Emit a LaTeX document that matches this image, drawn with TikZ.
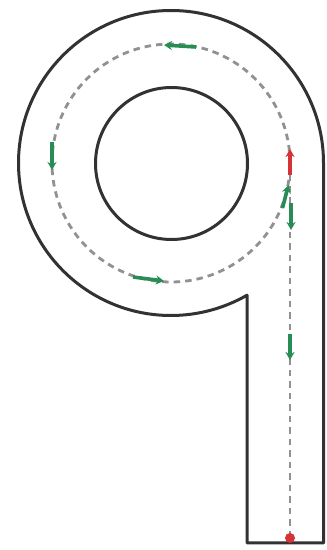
\documentclass[tikz,border=0pt]{standalone}
\usetikzlibrary{arrows.meta}
\definecolor{outline}{RGB}{50,50,50}
\definecolor{trackgray}{RGB}{145,145,145}
\definecolor{flowgreen}{RGB}{40,140,85}
\definecolor{flowred}{RGB}{215,50,55}
\tikzset{
  wall/.style={draw=outline, line width=3pt, line join=round},
  track/.style={draw=trackgray, line width=2.8pt, dash pattern=on 6.5pt off 5pt},
  flow/.style={line width=3.6pt, -{Stealth[length=8pt,width=9pt]}},
  greenflow/.style={flow, draw=flowgreen, fill=flowgreen},
  redflow/.style={flow, draw=flowred, fill=flowred}
}
\begin{document}
\begin{tikzpicture}[x=1pt,y=1pt]
\useasboundingbox (0,0) rectangle (327,550);
% outer wall: big arc plus straight stem
\draw[wall, fill=white] (323.5,387) arc[start angle=0, end angle=299.9, radius=152.5]
  -- (247,7) -- (323.5,7) -- cycle;
% inner wall
\draw[wall] (171.5,386.5) circle[radius=76];
% dashed track
\draw[track] (171,387) circle[radius=119];
\draw[track] (290,387) -- (290,12);
% start dot
\fill[flowred] (290,12) circle[radius=5];
% arrows
\coordinate (r1a) at (290,375); \coordinate (r1b) at (290,401);
\coordinate (g1a) at (282.5,342); \coordinate (g1b) at (288.5,365);
\coordinate (g2a) at (291,347); \coordinate (g2b) at (291,320);
\coordinate (g3a) at (290,216); \coordinate (g3b) at (290,190);
\coordinate (g4a) at (196,503); \coordinate (g4b) at (164,505);
\coordinate (g5a) at (52,408); \coordinate (g5b) at (52,380);
\coordinate (g6a) at (133,273); \coordinate (g6b) at (164,269);
\draw[redflow] (r1a) -- (r1b);
\draw[greenflow] (g1a) -- (g1b);
\draw[greenflow] (g2a) -- (g2b);
\draw[greenflow] (g3a) -- (g3b);
\draw[greenflow] (g4a) -- (g4b);
\draw[greenflow] (g5a) -- (g5b);
\draw[greenflow] (g6a) -- (g6b);
\end{tikzpicture}
\end{document}
